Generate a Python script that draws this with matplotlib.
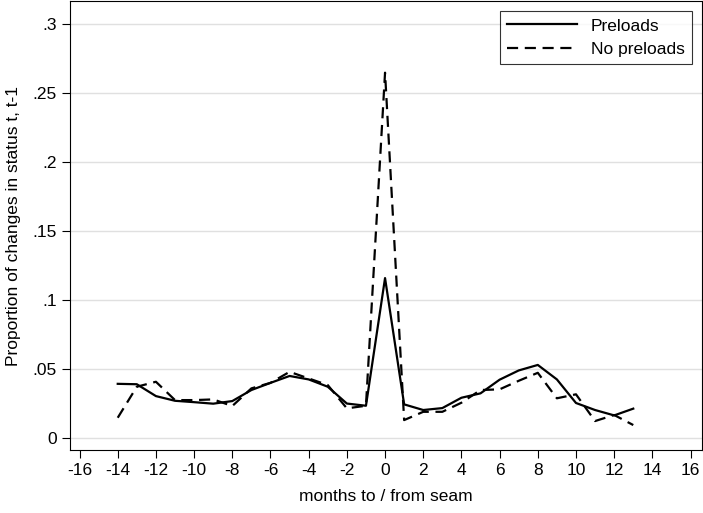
import matplotlib
matplotlib.use("Agg")
import matplotlib.pyplot as plt
import numpy as np

plt.rcParams["font.family"] = ["Liberation Sans", "DejaVu Sans"]
plt.rcParams["axes.unicode_minus"] = False

months = np.arange(-14, 14)
preloads = [.0393, .039, .0304, .027, .026, .0249, .0268, .0348, .040, .045, .0425, .0372, .025, .0234,
            .116, .0244, .0203, .0217, .0292, .0324, .0423, .049, .053, .0425, .0254, .0203, .0164, .0213]
no_preloads = [.0147, .0372, .0408, .0275, .0275, .028, .0232, .036, .040, .048, .0432, .0384, .0215, .0234,
               .265, .013, .019, .019, .0256, .0348, .0353, .0415, .0473, .0288, .0317, .0123, .0167, .0094]

fig = plt.figure(figsize=(7.03, 5.13), dpi=100)
ax = fig.add_axes([70/703, 63/513, 632/703, 449/513])
ax.plot(months, preloads, color="black", lw=1.6, label="Preloads")
ax.plot(months, no_preloads, color="black", lw=1.6, ls=(0, (5, 3)), label="No preloads")

ax.set_xlim(-16.5, 16.6)
ax.set_ylim(-0.0087, 0.317)
ax.set_xticks(np.arange(-16, 17, 2))
ax.set_yticks([0, .05, .1, .15, .2, .25, .3])
ax.set_yticklabels(["0", ".05", ".1", ".15", ".2", ".25", ".3"])
ax.grid(axis="y", color="#e0e0e0", lw=1)
ax.set_axisbelow(True)
ax.tick_params(direction="out", length=6, labelsize=12.5)
ax.set_xlabel("months to / from seam", fontsize=12.5, labelpad=8)
ax.set_ylabel("Proportion of changes in status t, t-1", fontsize=12.5, labelpad=8)
leg = ax.legend(loc="upper right", fontsize=12.5, fancybox=False, edgecolor="black", handlelength=4,
                borderaxespad=0.6)
leg.get_frame().set_linewidth(0.8)

fig.savefig("out.png", dpi=100)
